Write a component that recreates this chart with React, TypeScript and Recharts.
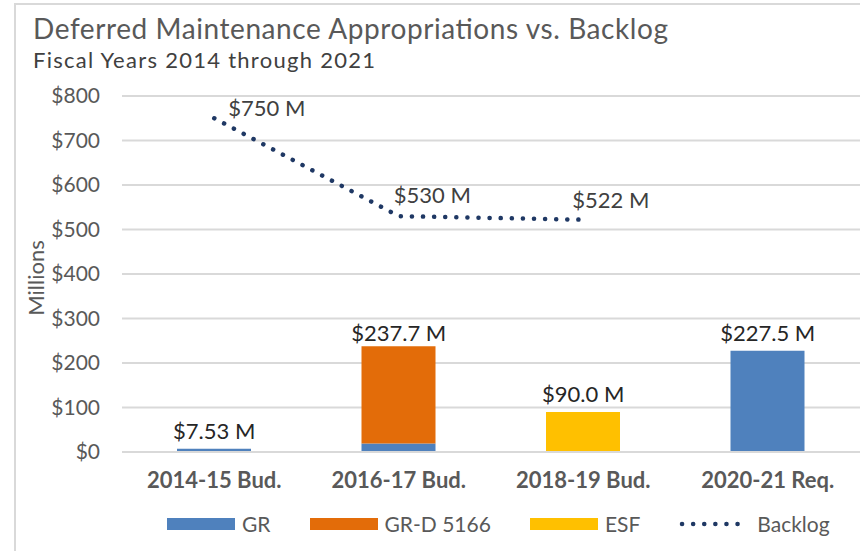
import React from "react";
import {
  ComposedChart,
  Bar,
  Line,
  XAxis,
  YAxis,
  CartesianGrid,
  LabelList,
} from "recharts";

const categories = ["2014-15 Bud.", "2016-17 Bud.", "2018-19 Bud.", "2020-21 Req."];
const grValues = [7.53, 19.0, 0, 227.5];
const grdValues = [0, 218.7, 0, 0];
const esfValues = [0, 0, 90.0, 0];
const backlogValues: (number | null)[] = [750, 530, 522, null];
const totalLabels = ["$7.53 M", "$237.7 M", "$90.0 M", "$227.5 M"];
const backlogLabels = ["$750 M", "$530 M", "$522 M", ""];
const yTicks = [0, 100, 200, 300, 400, 500, 600, 700, 800];

const data = categories.map((c, i) => ({
  cat: c,
  GR: grValues[i],
  GRD: grdValues[i],
  ESF: esfValues[i],
  total: grValues[i] + grdValues[i] + esfValues[i],
  backlog: backlogValues[i],
  totalLabel: totalLabels[i],
  backlogLabel: backlogLabels[i],
}));

const FONT = "Lato, 'Noto Sans', sans-serif";
const C_GR = "#4F81BD";
const C_GRD = "#E36C09";
const C_ESF = "#FFC000";
const C_LINE = "#1F3864";

const totalGap = [10, 5, 10, 10];

const TotalLabel = (props: any) => {
  const { x, y, index } = props;
  const row = data[index];
  if (!row) return null;
  return (
    <text
      x={x}
      y={y - totalGap[index]}
      textAnchor="middle"
      fontFamily={FONT}
      fontSize={22}
      fill="#262626"
    >
      {row.totalLabel}
    </text>
  );
};

const backlogOffsets = [
  { dx: 14, dy: -2 },
  { dx: -5, dy: -13 },
  { dx: -11, dy: -12 },
  { dx: 0, dy: 0 },
];

const BacklogLabel = (props: any) => {
  const { x, y, index } = props;
  const row = data[index];
  if (!row || !row.backlogLabel) return null;
  const o = backlogOffsets[index];
  return (
    <text x={x + o.dx} y={y + o.dy} fontFamily={FONT} fontSize={22} fill="#404040">
      {row.backlogLabel}
    </text>
  );
};

const legendItems = [
  { name: "GR", color: C_GR, type: "bar" },
  { name: "GR-D 5166", color: C_GRD, type: "bar" },
  { name: "ESF", color: C_ESF, type: "bar" },
  { name: "Backlog", color: C_LINE, type: "line" },
];

const LegendBox = () => (
  <div
    style={{
      position: "absolute",
      left: 167,
      top: 512,
      display: "flex",
      alignItems: "center",
      fontFamily: FONT,
      fontSize: 21,
      color: "#595959",
      gap: 39,
    }}
  >
    {legendItems.map((it) => (
      <div key={it.name} style={{ display: "flex", alignItems: "center" }}>
        {it.type === "bar" ? (
          <div style={{ width: 68, height: 12, background: it.color, marginRight: 7 }} />
        ) : (
          <svg width={70} height={12} style={{ marginRight: 8 }}>
            <line
              x1={3}
              y1={6}
              x2={68}
              y2={6}
              stroke={it.color}
              strokeWidth={4.5}
              strokeLinecap="round"
              strokeDasharray="0.1 11"
            />
          </svg>
        )}
        <span style={{ lineHeight: "24px" }}>{it.name}</span>
      </div>
    ))}
  </div>
);

export default function App() {
  return (
    <div
      style={{
        position: "absolute",
        left: 0,
        top: 0,
        width: 860,
        height: 551,
        overflow: "hidden",
        background: "#fff",
      }}
    >
      <div
        style={{
          position: "absolute",
          left: 14,
          top: 3,
          width: 900,
          height: 600,
          border: "2px solid #D9D9D9",
          boxSizing: "border-box",
        }}
      />
      <svg
        width={860}
        height={80}
        style={{ position: "absolute", left: 0, top: 0, pointerEvents: "none" }}
      >
        <text
          x={33}
          y={39}
          fontFamily={FONT}
          fontSize={28}
          fill="#595959"
          textLength={635}
          lengthAdjust="spacing"
        >
          Deferred Maintenance Appropriations vs. Backlog
        </text>
        <text
          x={33}
          y={68}
          fontFamily={FONT}
          fontSize={22}
          fill="#404040"
          textLength={342}
          lengthAdjust="spacing"
        >
          Fiscal Years 2014 through 2021
        </text>
      </svg>
      <div style={{ position: "absolute", left: 0, top: 0 }}>
        <ComposedChart
          width={860}
          height={551}
          data={data}
          margin={{ top: 96, right: 0, bottom: 0, left: 22 }}
          barSize={74}
        >
          <CartesianGrid vertical={false} stroke="#D9D9D9" strokeWidth={2} />
          <XAxis
            dataKey="cat"
            axisLine={{ stroke: "#D9D9D9", strokeWidth: 2 }}
            tickLine={false}
            tickSize={0}
            tickMargin={20}
            height={99}
            interval={0}
            tick={{ fontFamily: FONT, fontSize: 22, fontWeight: 700, fill: "#595959" }}
          />
          <YAxis
            width={100}
            domain={[0, 800]}
            ticks={yTicks}
            interval={0}
            axisLine={false}
            tickLine={false}
            tickSize={0}
            tickMargin={22}
            tickFormatter={(v: number) => `$${v}`}
            tick={{ fontFamily: FONT, fontSize: 21, fill: "#595959" }}
            label={{
              value: "Millions",
              angle: -90,
              position: "insideLeft",
              offset: 0,
              dx: 14,
              dy: 4,
              style: { fontFamily: FONT, fontSize: 22, fill: "#595959", textAnchor: "middle" },
            }}
          />
          <Bar dataKey="GR" stackId="a" fill={C_GR} isAnimationActive={false} />
          <Bar dataKey="GRD" stackId="a" fill={C_GRD} isAnimationActive={false} />
          <Bar dataKey="ESF" stackId="a" fill={C_ESF} isAnimationActive={false} />
          <Line
            dataKey="total"
            stroke="none"
            dot={false}
            activeDot={false}
            legendType="none"
            isAnimationActive={false}
          >
            <LabelList content={<TotalLabel />} />
          </Line>
          <Line
            dataKey="backlog"
            stroke={C_LINE}
            strokeWidth={4.5}
            strokeLinecap="round"
            strokeDasharray="0.1 11"
            dot={false}
            isAnimationActive={false}
          >
            <LabelList content={<BacklogLabel />} />
          </Line>
        </ComposedChart>
      </div>
      <LegendBox />
    </div>
  );
}
